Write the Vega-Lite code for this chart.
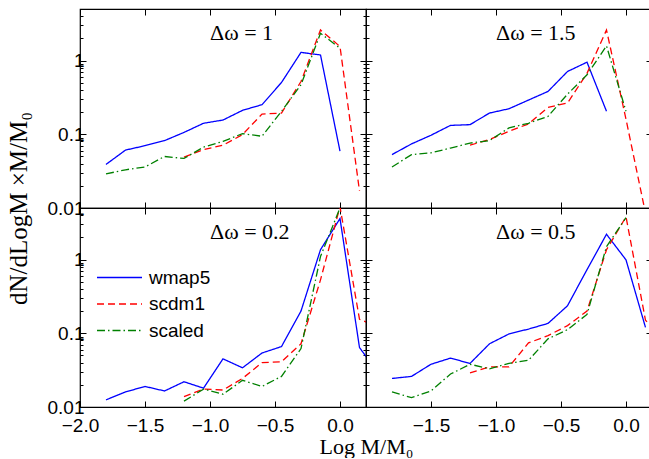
{
"$schema":"https://vega.github.io/schema/vega-lite/v6.json",
"padding":{"left":5,"top":7,"right":0,"bottom":0},
"datasets":{
"lines":[
{"p":"a","s":"wmap5","x":-1.8,"v":0.039},{"p":"a","s":"wmap5","x":-1.65,"v":0.061},{"p":"a","s":"wmap5","x":-1.5,"v":0.070},{"p":"a","s":"wmap5","x":-1.35,"v":0.082},{"p":"a","s":"wmap5","x":-1.2,"v":0.106},{"p":"a","s":"wmap5","x":-1.05,"v":0.141},{"p":"a","s":"wmap5","x":-0.9,"v":0.156},{"p":"a","s":"wmap5","x":-0.75,"v":0.211},{"p":"a","s":"wmap5","x":-0.6,"v":0.252},{"p":"a","s":"wmap5","x":-0.45,"v":0.504},{"p":"a","s":"wmap5","x":-0.3,"v":1.29},{"p":"a","s":"wmap5","x":-0.15,"v":1.19},{"p":"a","s":"wmap5","x":0,"v":0.059},
{"p":"a","s":"scdm1","x":-1.2,"v":0.049},{"p":"a","s":"scdm1","x":-1.05,"v":0.062},{"p":"a","s":"scdm1","x":-0.9,"v":0.071},{"p":"a","s":"scdm1","x":-0.75,"v":0.099},{"p":"a","s":"scdm1","x":-0.6,"v":0.188},{"p":"a","s":"scdm1","x":-0.45,"v":0.194},{"p":"a","s":"scdm1","x":-0.3,"v":0.52},{"p":"a","s":"scdm1","x":-0.15,"v":2.6},{"p":"a","s":"scdm1","x":0,"v":1.55},{"p":"a","s":"scdm1","x":0.15,"v":0.017},
{"p":"a","s":"scaled","x":-1.8,"v":0.029},{"p":"a","s":"scaled","x":-1.65,"v":0.033},{"p":"a","s":"scaled","x":-1.5,"v":0.036},{"p":"a","s":"scaled","x":-1.35,"v":0.050},{"p":"a","s":"scaled","x":-1.2,"v":0.047},{"p":"a","s":"scaled","x":-1.05,"v":0.067},{"p":"a","s":"scaled","x":-0.9,"v":0.080},{"p":"a","s":"scaled","x":-0.75,"v":0.102},{"p":"a","s":"scaled","x":-0.6,"v":0.094},{"p":"a","s":"scaled","x":-0.45,"v":0.205},{"p":"a","s":"scaled","x":-0.3,"v":0.47},{"p":"a","s":"scaled","x":-0.15,"v":2.34},{"p":"a","s":"scaled","x":0,"v":1.47},
{"p":"b","s":"wmap5","x":-1.8,"v":0.053},{"p":"b","s":"wmap5","x":-1.65,"v":0.074},{"p":"b","s":"wmap5","x":-1.5,"v":0.097},{"p":"b","s":"wmap5","x":-1.35,"v":0.132},{"p":"b","s":"wmap5","x":-1.2,"v":0.135},{"p":"b","s":"wmap5","x":-1.05,"v":0.194},{"p":"b","s":"wmap5","x":-0.9,"v":0.222},{"p":"b","s":"wmap5","x":-0.75,"v":0.291},{"p":"b","s":"wmap5","x":-0.6,"v":0.381},{"p":"b","s":"wmap5","x":-0.45,"v":0.71},{"p":"b","s":"wmap5","x":-0.3,"v":0.95},{"p":"b","s":"wmap5","x":-0.15,"v":0.205},
{"p":"b","s":"scdm1","x":-1.2,"v":0.071},{"p":"b","s":"scdm1","x":-1.05,"v":0.085},{"p":"b","s":"scdm1","x":-0.9,"v":0.11},{"p":"b","s":"scdm1","x":-0.75,"v":0.138},{"p":"b","s":"scdm1","x":-0.6,"v":0.232},{"p":"b","s":"scdm1","x":-0.45,"v":0.265},{"p":"b","s":"scdm1","x":-0.3,"v":0.67},{"p":"b","s":"scdm1","x":-0.15,"v":2.6},{"p":"b","s":"scdm1","x":0,"v":0.16},{"p":"b","s":"scdm1","x":0.15,"v":0.0085},
{"p":"b","s":"scaled","x":-1.8,"v":0.036},{"p":"b","s":"scaled","x":-1.65,"v":0.053},{"p":"b","s":"scaled","x":-1.5,"v":0.056},{"p":"b","s":"scaled","x":-1.35,"v":0.065},{"p":"b","s":"scaled","x":-1.2,"v":0.076},{"p":"b","s":"scaled","x":-1.05,"v":0.082},{"p":"b","s":"scaled","x":-0.9,"v":0.122},{"p":"b","s":"scaled","x":-0.75,"v":0.141},{"p":"b","s":"scaled","x":-0.6,"v":0.175},{"p":"b","s":"scaled","x":-0.45,"v":0.35},{"p":"b","s":"scaled","x":-0.3,"v":0.64},{"p":"b","s":"scaled","x":-0.15,"v":1.58},{"p":"b","s":"scaled","x":0,"v":0.205},
{"p":"c","s":"wmap5","x":-1.8,"v":0.0125},{"p":"c","s":"wmap5","x":-1.65,"v":0.016},{"p":"c","s":"wmap5","x":-1.5,"v":0.019},{"p":"c","s":"wmap5","x":-1.35,"v":0.0165},{"p":"c","s":"wmap5","x":-1.2,"v":0.022},{"p":"c","s":"wmap5","x":-1.05,"v":0.018},{"p":"c","s":"wmap5","x":-0.9,"v":0.045},{"p":"c","s":"wmap5","x":-0.75,"v":0.034},{"p":"c","s":"wmap5","x":-0.6,"v":0.054},{"p":"c","s":"wmap5","x":-0.45,"v":0.066},{"p":"c","s":"wmap5","x":-0.3,"v":0.20},{"p":"c","s":"wmap5","x":-0.15,"v":1.36},{"p":"c","s":"wmap5","x":0,"v":3.6},{"p":"c","s":"wmap5","x":0.15,"v":0.064},{"p":"c","s":"wmap5","x":0.3,"v":0.028},
{"p":"c","s":"scdm1","x":-1.2,"v":0.0138},{"p":"c","s":"scdm1","x":-1.05,"v":0.0175},{"p":"c","s":"scdm1","x":-0.9,"v":0.017},{"p":"c","s":"scdm1","x":-0.75,"v":0.0244},{"p":"c","s":"scdm1","x":-0.6,"v":0.040},{"p":"c","s":"scdm1","x":-0.45,"v":0.041},{"p":"c","s":"scdm1","x":-0.3,"v":0.072},{"p":"c","s":"scdm1","x":-0.15,"v":0.53},{"p":"c","s":"scdm1","x":0,"v":5.2},{"p":"c","s":"scdm1","x":0.15,"v":0.155},{"p":"c","s":"scdm1","x":0.3,"v":0.12},
{"p":"c","s":"scaled","x":-1.2,"v":0.012},{"p":"c","s":"scaled","x":-1.05,"v":0.0175},{"p":"c","s":"scaled","x":-0.9,"v":0.0149},{"p":"c","s":"scaled","x":-0.75,"v":0.023},{"p":"c","s":"scaled","x":-0.6,"v":0.019},{"p":"c","s":"scaled","x":-0.45,"v":0.026},{"p":"c","s":"scaled","x":-0.3,"v":0.062},{"p":"c","s":"scaled","x":-0.15,"v":1.1},{"p":"c","s":"scaled","x":0,"v":5.0},
{"p":"d","s":"wmap5","x":-1.8,"v":0.0244},{"p":"d","s":"wmap5","x":-1.65,"v":0.026},{"p":"d","s":"wmap5","x":-1.5,"v":0.038},{"p":"d","s":"wmap5","x":-1.35,"v":0.046},{"p":"d","s":"wmap5","x":-1.2,"v":0.039},{"p":"d","s":"wmap5","x":-1.05,"v":0.072},{"p":"d","s":"wmap5","x":-0.9,"v":0.098},{"p":"d","s":"wmap5","x":-0.75,"v":0.114},{"p":"d","s":"wmap5","x":-0.6,"v":0.136},{"p":"d","s":"wmap5","x":-0.45,"v":0.236},{"p":"d","s":"wmap5","x":-0.3,"v":0.73},{"p":"d","s":"wmap5","x":-0.15,"v":2.2},{"p":"d","s":"wmap5","x":0,"v":0.99},{"p":"d","s":"wmap5","x":0.15,"v":0.12},
{"p":"d","s":"scdm1","x":-1.2,"v":0.029},{"p":"d","s":"scdm1","x":-1.05,"v":0.035},{"p":"d","s":"scdm1","x":-0.9,"v":0.035},{"p":"d","s":"scdm1","x":-0.75,"v":0.074},{"p":"d","s":"scdm1","x":-0.6,"v":0.093},{"p":"d","s":"scdm1","x":-0.45,"v":0.127},{"p":"d","s":"scdm1","x":-0.3,"v":0.20},{"p":"d","s":"scdm1","x":-0.15,"v":1.36},{"p":"d","s":"scdm1","x":0,"v":3.8},{"p":"d","s":"scdm1","x":0.15,"v":0.15},{"p":"d","s":"scdm1","x":0.3,"v":0.08},
{"p":"d","s":"scaled","x":-1.8,"v":0.016},{"p":"d","s":"scaled","x":-1.65,"v":0.0134},{"p":"d","s":"scaled","x":-1.5,"v":0.0165},{"p":"d","s":"scaled","x":-1.35,"v":0.028},{"p":"d","s":"scaled","x":-1.2,"v":0.038},{"p":"d","s":"scaled","x":-1.05,"v":0.033},{"p":"d","s":"scaled","x":-0.9,"v":0.039},{"p":"d","s":"scaled","x":-0.75,"v":0.043},{"p":"d","s":"scaled","x":-0.6,"v":0.084},{"p":"d","s":"scaled","x":-0.45,"v":0.112},{"p":"d","s":"scaled","x":-0.3,"v":0.18},{"p":"d","s":"scaled","x":-0.15,"v":1.5},{"p":"d","s":"scaled","x":0,"v":3.7}
],
"labels":[
{"p":"a","x":-1.0,"y":2.4,"t":"Δω = 1"},
{"p":"b","x":-1.0,"y":2.4,"t":"Δω = 1.5"},
{"p":"c","x":-1.0,"y":2.4,"t":"Δω = 0.2"},
{"p":"d","x":-1.0,"y":2.4,"t":"Δω = 0.5"}
]
},
"columns":2,
"spacing":0,
"bounds":"flush",
"resolve":{"scale":{"color":"independent","strokeDash":"independent"},"legend":{"color":"independent","strokeDash":"independent"}},
"concat":[
{"width":286,"height":199,
 "layer":[
  {"data":{"name":"lines"},"transform":[{"filter":"datum.p == 'a'"}],
   "mark":{"type":"line","clip":true,"strokeWidth":1.3},
   "encoding":{
    "x":{"field":"x","type":"quantitative","scale":{"domain":[-2,0.2],"nice":false,"zero":false},"axis":{"orient":"bottom","values":[-2,-1.5,-1,-0.5,0],"tickSize":-6,"labels":false,"title":null}},
    "y":{"field":"v","type":"quantitative","scale":{"type":"log","domain":[0.01,5],"nice":false},"axis":{"orient":"left","values":[0.01,0.02,0.03,0.04,0.05,0.06,0.07,0.08,0.09,0.1,0.2,0.3,0.4,0.5,0.6,0.7,0.8,0.9,1,2,3,4,5],"labelExpr":"datum.value == 0.01 ? '0.01' : datum.value == 0.1 ? '0.1' : datum.value == 1 ? '1' : ''","labelFontSize":{"condition":{"test":"datum.value == 0.01 || datum.value == 0.1 || datum.value == 1","value":19},"value":0},"tickSize":{"condition":{"test":"datum.value == 0.01 || datum.value == 0.1 || datum.value == 1","value":-6},"value":-3},"labelPadding":2,"title":null}},
    "color":{"field":"s","type":"nominal","scale":{"domain":["wmap5","scdm1","scaled"],"range":["#0000ff","#ff0000","#008000"]},"legend":null},
    "strokeDash":{"field":"s","type":"nominal","scale":{"domain":["wmap5","scdm1","scaled"],"range":[[1,0],[7,4],[8,3,1.5,3]]},"legend":null}
   }},
  {"data":{"name":"labels"},"transform":[{"filter":"datum.p == 'a'"}],
   "mark":{"type":"text","align":"left","baseline":"middle","font":"Liberation Serif","fontSize":22,"color":"black"},
   "encoding":{
    "x":{"field":"x","type":"quantitative","scale":{"domain":[-2,0.2],"nice":false,"zero":false},"axis":{"orient":"top","values":[-2,-1.5,-1,-0.5,0],"tickSize":-6,"labels":false,"title":null}},
    "y":{"field":"y","type":"quantitative","scale":{"type":"log","domain":[0.01,5],"nice":false},"axis":{"orient":"right","values":[0.01,0.02,0.03,0.04,0.05,0.06,0.07,0.08,0.09,0.1,0.2,0.3,0.4,0.5,0.6,0.7,0.8,0.9,1,2,3,4,5],"labels":false,"tickSize":{"condition":{"test":"datum.value == 0.01 || datum.value == 0.1 || datum.value == 1","value":-6},"value":-3},"title":null}},
    "text":{"field":"t"}
   }}
 ],
 "resolve":{"axis":{"x":"independent","y":"independent"}}
},
{"width":286,"height":199,
 "layer":[
  {"data":{"name":"lines"},"transform":[{"filter":"datum.p == 'b'"}],
   "mark":{"type":"line","clip":true,"strokeWidth":1.3},
   "encoding":{
    "x":{"field":"x","type":"quantitative","scale":{"domain":[-2,0.2],"nice":false,"zero":false},"axis":{"orient":"bottom","values":[-2,-1.5,-1,-0.5,0],"tickSize":-6,"labels":false,"title":null}},
    "y":{"field":"v","type":"quantitative","scale":{"type":"log","domain":[0.01,5],"nice":false},"axis":{"orient":"left","values":[0.01,0.02,0.03,0.04,0.05,0.06,0.07,0.08,0.09,0.1,0.2,0.3,0.4,0.5,0.6,0.7,0.8,0.9,1,2,3,4,5],"labels":false,"tickSize":{"condition":{"test":"datum.value == 0.01 || datum.value == 0.1 || datum.value == 1","value":-6},"value":-3},"title":null}},
    "color":{"field":"s","type":"nominal","scale":{"domain":["wmap5","scdm1","scaled"],"range":["#0000ff","#ff0000","#008000"]},"legend":null},
    "strokeDash":{"field":"s","type":"nominal","scale":{"domain":["wmap5","scdm1","scaled"],"range":[[1,0],[7,4],[8,3,1.5,3]]},"legend":null}
   }},
  {"data":{"name":"labels"},"transform":[{"filter":"datum.p == 'b'"}],
   "mark":{"type":"text","align":"left","baseline":"middle","font":"Liberation Serif","fontSize":22,"color":"black"},
   "encoding":{
    "x":{"field":"x","type":"quantitative","scale":{"domain":[-2,0.2],"nice":false,"zero":false},"axis":{"orient":"top","values":[-2,-1.5,-1,-0.5,0],"tickSize":-6,"labels":false,"title":null}},
    "y":{"field":"y","type":"quantitative","scale":{"type":"log","domain":[0.01,5],"nice":false},"axis":{"orient":"right","values":[0.01,0.02,0.03,0.04,0.05,0.06,0.07,0.08,0.09,0.1,0.2,0.3,0.4,0.5,0.6,0.7,0.8,0.9,1,2,3,4,5],"labels":false,"tickSize":{"condition":{"test":"datum.value == 0.01 || datum.value == 0.1 || datum.value == 1","value":-6},"value":-3},"title":null}},
    "text":{"field":"t"}
   }}
 ],
 "resolve":{"axis":{"x":"independent","y":"independent"}}
},
{"width":286,"height":199,
 "layer":[
  {"data":{"name":"lines"},"transform":[{"filter":"datum.p == 'c'"}],
   "mark":{"type":"line","clip":true,"strokeWidth":1.3},
   "encoding":{
    "x":{"field":"x","type":"quantitative","scale":{"domain":[-2,0.2],"nice":false,"zero":false},"axis":{"orient":"bottom","values":[-2,-1.5,-1,-0.5,0],"tickSize":-6,"labelPadding":15,"title":"Log M/M₀","titleX":286,"titleY":39,"titleBaseline":"middle","titleAlign":"center","titleFont":"Liberation Serif","titleFontSize":22,"titleFontWeight":"normal"}},
    "y":{"field":"v","type":"quantitative","scale":{"type":"log","domain":[0.01,5],"nice":false},"axis":{"orient":"left","values":[0.01,0.02,0.03,0.04,0.05,0.06,0.07,0.08,0.09,0.1,0.2,0.3,0.4,0.5,0.6,0.7,0.8,0.9,1,2,3,4,5],"labelExpr":"datum.value == 0.01 ? '0.01' : datum.value == 0.1 ? '0.1' : datum.value == 1 ? '1' : ''","labelFontSize":{"condition":{"test":"datum.value == 0.01 || datum.value == 0.1 || datum.value == 1","value":19},"value":0},"tickSize":{"condition":{"test":"datum.value == 0.01 || datum.value == 0.1 || datum.value == 1","value":-6},"value":-3},"labelPadding":2,"title":"dN/dLogM  ×M/M₀","titleX":-62,"titleY":0,"titleAngle":270,"titleBaseline":"middle","titleAlign":"center","titleFont":"Liberation Serif","titleFontSize":25,"titleFontWeight":"normal"}},
    "color":{"field":"s","type":"nominal","scale":{"domain":["wmap5","scdm1","scaled"],"range":["#0000ff","#ff0000","#008000"]},"legend":{"orient":"none","legendX":30,"legendY":60,"title":null,"symbolType":"M-3,0H3","symbolSize":225,"symbolStrokeWidth":1.3,"labelFont":"Liberation Sans","labelFontSize":19,"labelColor":"black","labelOffset":20,"rowPadding":6.5,"padding":0}},
    "strokeDash":{"field":"s","type":"nominal","scale":{"domain":["wmap5","scdm1","scaled"],"range":[[1,0],[7,4],[8,3,1.5,3]]},"legend":{"orient":"none","legendX":30,"legendY":60,"title":null,"symbolType":"M-3,0H3","symbolSize":225,"symbolStrokeWidth":1.3,"labelFont":"Liberation Sans","labelFontSize":19,"labelColor":"black","labelOffset":20,"rowPadding":6.5,"padding":0}}
   }},
  {"data":{"name":"labels"},"transform":[{"filter":"datum.p == 'c'"}],
   "mark":{"type":"text","align":"left","baseline":"middle","font":"Liberation Serif","fontSize":22,"color":"black"},
   "encoding":{
    "x":{"field":"x","type":"quantitative","scale":{"domain":[-2,0.2],"nice":false,"zero":false},"axis":{"orient":"top","values":[-2,-1.5,-1,-0.5,0],"tickSize":-6,"labels":false,"title":null}},
    "y":{"field":"y","type":"quantitative","scale":{"type":"log","domain":[0.01,5],"nice":false},"axis":{"orient":"right","values":[0.01,0.02,0.03,0.04,0.05,0.06,0.07,0.08,0.09,0.1,0.2,0.3,0.4,0.5,0.6,0.7,0.8,0.9,1,2,3,4,5],"labels":false,"tickSize":{"condition":{"test":"datum.value == 0.01 || datum.value == 0.1 || datum.value == 1","value":-6},"value":-3},"title":null}},
    "text":{"field":"t"}
   }}
 ],
 "resolve":{"axis":{"x":"independent","y":"independent"}}
},
{"width":286,"height":199,
 "layer":[
  {"data":{"name":"lines"},"transform":[{"filter":"datum.p == 'd'"}],
   "mark":{"type":"line","clip":true,"strokeWidth":1.3},
   "encoding":{
    "x":{"field":"x","type":"quantitative","scale":{"domain":[-2,0.2],"nice":false,"zero":false},"axis":{"orient":"bottom","values":[-2,-1.5,-1,-0.5,0],"tickSize":-6,"labelPadding":15,"labelExpr":"datum.value == -2 ? '' : datum.label","title":null}},
    "y":{"field":"v","type":"quantitative","scale":{"type":"log","domain":[0.01,5],"nice":false},"axis":{"orient":"left","values":[0.01,0.02,0.03,0.04,0.05,0.06,0.07,0.08,0.09,0.1,0.2,0.3,0.4,0.5,0.6,0.7,0.8,0.9,1,2,3,4,5],"labels":false,"tickSize":{"condition":{"test":"datum.value == 0.01 || datum.value == 0.1 || datum.value == 1","value":-6},"value":-3},"title":null}},
    "color":{"field":"s","type":"nominal","scale":{"domain":["wmap5","scdm1","scaled"],"range":["#0000ff","#ff0000","#008000"]},"legend":null},
    "strokeDash":{"field":"s","type":"nominal","scale":{"domain":["wmap5","scdm1","scaled"],"range":[[1,0],[7,4],[8,3,1.5,3]]},"legend":null}
   }},
  {"data":{"name":"labels"},"transform":[{"filter":"datum.p == 'd'"}],
   "mark":{"type":"text","align":"left","baseline":"middle","font":"Liberation Serif","fontSize":22,"color":"black"},
   "encoding":{
    "x":{"field":"x","type":"quantitative","scale":{"domain":[-2,0.2],"nice":false,"zero":false},"axis":{"orient":"top","values":[-2,-1.5,-1,-0.5,0],"tickSize":-6,"labels":false,"title":null}},
    "y":{"field":"y","type":"quantitative","scale":{"type":"log","domain":[0.01,5],"nice":false},"axis":{"orient":"right","values":[0.01,0.02,0.03,0.04,0.05,0.06,0.07,0.08,0.09,0.1,0.2,0.3,0.4,0.5,0.6,0.7,0.8,0.9,1,2,3,4,5],"labels":false,"tickSize":{"condition":{"test":"datum.value == 0.01 || datum.value == 0.1 || datum.value == 1","value":-6},"value":-3},"title":null}},
    "text":{"field":"t"}
   }}
 ],
 "resolve":{"axis":{"x":"independent","y":"independent"}}
}
],
"config":{
 "background":"white",
 "view":{"stroke":"black","strokeWidth":1.2},
 "axis":{"labelFont":"Liberation Sans","labelFontSize":19,"labelColor":"black","tickColor":"black","tickWidth":1,"domain":false,"grid":false,"labelFlush":false,"labelOverlap":false,"titleColor":"black"}
}
}
